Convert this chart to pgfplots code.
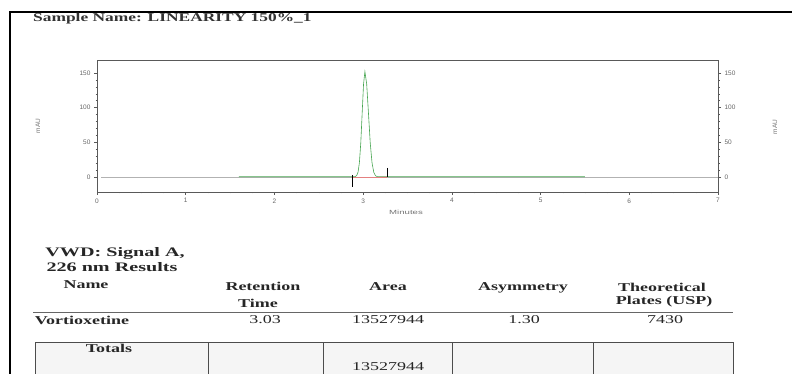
\documentclass[border=0pt]{standalone}
\usepackage{pgfplots}
\pgfplotsset{compat=1.18}
\usepackage{fontspec}
\setmainfont{Liberation Serif}
\setsansfont{Liberation Sans}
\usepackage{graphicx}
\newcommand{\W}[1]{\scalebox{1.5}[1]{#1}}
\definecolor{sig}{RGB}{70,165,80}
\begin{document}
\begin{tikzpicture}[x=1pt,y=1pt]
\path[use as bounding box] (0,0) rectangle (792,374);
% frame
\draw[line width=2.2pt] (10,0) -- (10,362) -- (792,362);
% title
\node[anchor=west, inner sep=0, font=\fontsize{12}{14}\selectfont\bfseries, text=black!80] at (33,355) {\scalebox{1.45}[1]{Sample Name: LINEARITY 150\%\_1}};
\begin{axis}[at={(97pt,197pt)}, anchor=origin, width=621pt, height=132pt, scale only axis,
  xmin=0, xmax=7, ymin=-21.6, ymax=168.8,
  xtick={0,1,2,3,4,5,6,7}, ytick={0,50,100,150},
  minor x tick num=3, minor y tick num=4,
  xtick pos=left, ytick pos=both, yticklabel pos=left,
  tick align=outside, major tick length=3pt, minor tick length=1.5pt,
  axis line style={black!65, line width=0.8pt}, tick style={black!65, line width=0.5pt},
  /pgf/number format/assume math mode=true,
  ticklabel style={font=\sffamily\fontsize{6.5}{7}\selectfont, text=black!60},
  clip=false]
\addplot[black!30, line width=0.6pt] coordinates {(0.05,0) (7,0)};
\addplot[sig, line width=0.6pt] coordinates {
(1.6,0.3) (2.8,0.3) (2.9,0.4) (2.9115,0.7) (2.927,2.0) (2.9425,7) (2.958,21)
(2.9735,49.4) (2.989,92.2) (3.0045,134) (3.02,152) (3.04,134) (3.06,92)
(3.08,49) (3.10,20.6) (3.12,6.7) (3.14,1.7) (3.16,0.5) (3.3,0.3) (5.5,0.3)};
\addplot[red!60, line width=0.6pt] coordinates {(2.87,-0.6) (3.27,-0.4)};
\addplot[black, line width=0.6pt] coordinates {(2.875,3) (2.875,-14)};
\addplot[black, line width=0.6pt] coordinates {(3.27,13) (3.27,0)};
\end{axis}
\begin{axis}[at={(97pt,197pt)}, anchor=origin, width=621pt, height=132pt, scale only axis,
  xmin=0, xmax=7, ymin=-21.6, ymax=168.8,
  axis x line=none, axis y line*=right,
  ytick={0,50,100,150}, minor y tick num=4,
  tick align=outside, major tick length=3pt, minor tick length=1.5pt,
  axis line style={black!65, line width=0.8pt}, tick style={black!65, line width=0.5pt},
  /pgf/number format/assume math mode=true,
  ticklabel style={font=\sffamily\fontsize{6.5}{7}\selectfont, text=black!60}]
\addplot[draw=none] coordinates {(0,0)};
\end{axis}
\node[font=\sffamily\fontsize{6}{7}\selectfont, text=black!55] at (406,162) {\scalebox{1.6}[1]{Minutes}};
\node[font=\sffamily\fontsize{6.5}{7}\selectfont, text=black!55, rotate=90] at (38,248) {mAU};
\node[font=\sffamily\fontsize{6.5}{7}\selectfont, text=black!55, rotate=90] at (775,247) {mAU};
% table
\begin{scope}[every node/.style={inner sep=0, font=\fontsize{12}{14}\selectfont, text=black!85}]
\node[font=\fontsize{13}{14}\selectfont\bfseries] at (115,121) {\scalebox{1.55}[1]{VWD: Signal A,}};
\node[font=\fontsize{13}{14}\selectfont\bfseries] at (112,107) {\scalebox{1.55}[1]{226 nm Results}};
\node[font=\fontsize{12}{14}\selectfont\bfseries] at (86,89) {\W{Name}};
\node[font=\fontsize{12}{14}\selectfont\bfseries] at (263,88) {\W{Retention}};
\node[font=\fontsize{12}{14}\selectfont\bfseries] at (258,71) {\W{Time}};
\node[font=\fontsize{12}{14}\selectfont\bfseries] at (388,87) {\W{Area}};
\node[font=\fontsize{12}{14}\selectfont\bfseries] at (523,86) {\W{Asymmetry}};
\node[font=\fontsize{12}{14}\selectfont\bfseries] at (662,87) {\W{Theoretical}};
\node[font=\fontsize{12}{14}\selectfont\bfseries] at (664,72) {\W{Plates (USP)}};
\draw[black!60, line width=0.8pt] (33,62) -- (733,62);
\node[font=\fontsize{12}{14}\selectfont\bfseries] at (82,54) {\W{Vortioxetine}};
\node at (265,54) {\W{3.03}};
\node at (388,54) {\W{13527944}};
\node at (524,54) {\W{1.30}};
\node at (665,54) {\W{7430}};
\fill[gray!8] (35,0) rectangle (733,32);
\draw[black!70, line width=0.7pt] (35,0) -- (35,32) -- (733,32) -- (733,0);
\foreach \xx in {208,323,452,593} \draw[black!70, line width=0.7pt] (\xx,0) -- (\xx,32);
\node[font=\fontsize{12}{14}\selectfont\bfseries] at (109,26) {\W{Totals}};
\node at (388,7) {\W{13527944}};
\end{scope}
\end{tikzpicture}
\end{document}
